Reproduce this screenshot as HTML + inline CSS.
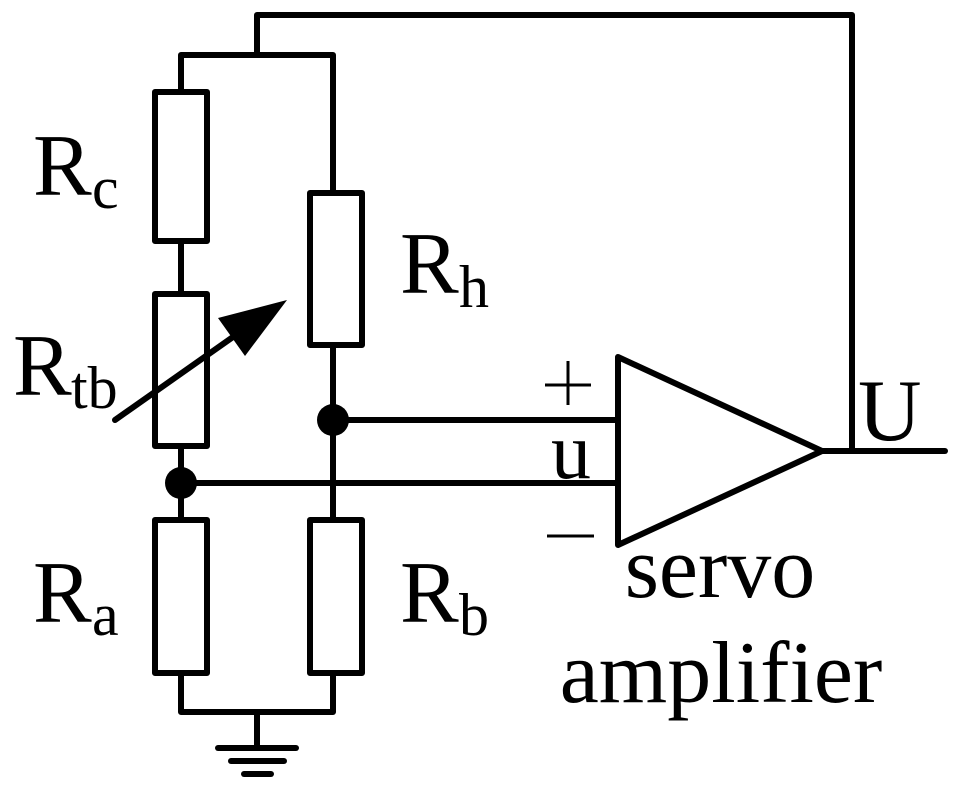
<!DOCTYPE html>
<html><head><meta charset="utf-8"><style>
html,body{margin:0;padding:0;background:#fff;}
svg{display:block;}
svg text{font-family:"Liberation Serif","Times New Roman","DejaVu Serif",serif;fill:#000;}
</style></head><body>
<svg width="963" height="790" viewBox="0 0 963 790" xmlns="http://www.w3.org/2000/svg" font-family="Liberation Serif, Times New Roman, serif">
<g fill="none" stroke="#000" stroke-width="6" stroke-linejoin="round" stroke-linecap="round">
<polyline points="257,55 257,15 852,15 852,451"/>
<polyline points="181,92 181,55 333,55 333,193"/>
<rect x="155" y="92" width="52" height="149"/>
<line x1="181" y1="241" x2="181" y2="294"/>
<rect x="155" y="294" width="52" height="152"/>
<line x1="181" y1="446" x2="181" y2="520"/>
<rect x="155" y="520" width="52" height="153"/>
<rect x="310" y="193" width="52" height="152"/>
<line x1="333" y1="345" x2="333" y2="520"/>
<rect x="310" y="520" width="52" height="153"/>
<polyline points="181,673 181,712 333,712 333,673"/>
<line x1="257" y1="712" x2="257" y2="748"/>
<line x1="218" y1="748" x2="296" y2="748"/>
<line x1="231" y1="761" x2="284" y2="761"/>
<line x1="244" y1="774" x2="271" y2="774"/>
<line x1="333" y1="420" x2="615" y2="420"/>
<line x1="181" y1="483" x2="615" y2="483"/>
<polygon points="618,357 618,545 822,451"/>
<line x1="822" y1="451" x2="945" y2="451"/>
<line x1="115" y1="420" x2="250" y2="325"/>
</g>
<polygon points="287,300 218,318 245,356" fill="#000"/>
<circle cx="333" cy="420" r="16" fill="#000"/>
<circle cx="181" cy="483" r="16" fill="#000"/>
<text x="33" y="195" font-size="88">R</text><text x="92" y="208" font-size="60">c</text>
<text x="400" y="293" font-size="88">R</text><text x="459" y="307" font-size="60">h</text>
<text x="13" y="395" font-size="88">R</text><text x="71" y="408" font-size="60">tb</text>
<text x="33" y="622" font-size="88">R</text><text x="92" y="635" font-size="60">a</text>
<text x="400" y="622" font-size="88">R</text><text x="459" y="635" font-size="60">b</text>
<line x1="545" y1="385" x2="591" y2="385" stroke="#000" stroke-width="3"/>
<line x1="568" y1="361" x2="568" y2="405" stroke="#000" stroke-width="3"/>
<line x1="547" y1="536" x2="594" y2="536" stroke="#000" stroke-width="3"/>
<text x="551" y="478" font-size="80">u</text>
<text x="858" y="440" font-size="88">U</text>
<text x="720" y="597" font-size="88" text-anchor="middle">servo</text>
<text x="721" y="702" font-size="88" text-anchor="middle">amplifier</text>
</svg>
</body></html>
